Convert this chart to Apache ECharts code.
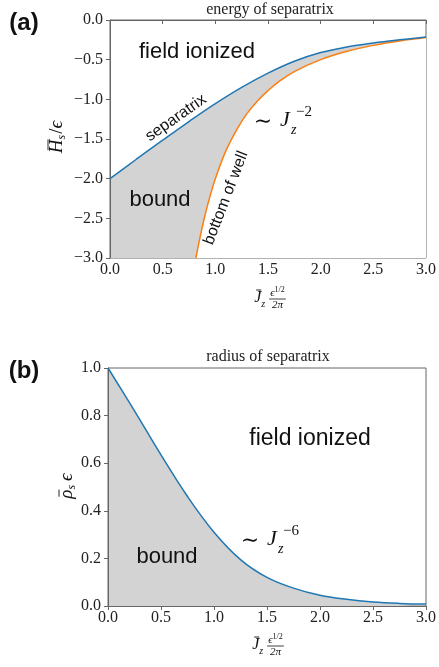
<!DOCTYPE html>
<html>
<head>
<meta charset="utf-8">
<script src="https://cdn.jsdelivr.net/npm/echarts@6/dist/echarts.min.js"></script>
<style>
  html, body { margin: 0; padding: 0; background: #fff; }
  #chart { width: 439px; height: 667px; }
</style>
</head>
<body>
<div id="chart"></div>
<script>
// (a) energy of separatrix: separatrix (blue) and bottom of well (orange)
const sepJ = [0, 0.25, 0.5, 0.75, 1.0, 1.25, 1.5, 1.75, 2.0, 2.25, 2.5, 2.75, 3.0];
const sepH = [-2.0, -1.755, -1.515, -1.28, -1.055, -0.85, -0.67, -0.52, -0.41, -0.34, -0.29, -0.25, -0.215];
const wellJ = [0.816, 0.85, 0.9, 0.95, 1.0, 1.1, 1.2, 1.3, 1.4, 1.5, 1.6, 1.75, 2.0, 2.25, 2.5, 2.75, 3.0];
const wellH = [-3.0, -2.77, -2.47, -2.22, -2.0, -1.65, -1.39, -1.18, -1.02, -0.89, -0.78, -0.65, -0.5, -0.395, -0.32, -0.265, -0.222];

// (b) radius of separatrix
const radJ = [0, 0.25, 0.5, 0.75, 1.0, 1.25, 1.5, 1.75, 2.0, 2.25, 2.5, 2.75, 3.0];
const radRho = [1.0, 0.82, 0.635, 0.46, 0.31, 0.195, 0.12, 0.075, 0.045, 0.028, 0.017, 0.011, 0.008];

const BLUE = '#1f77b4';
const ORANGE = '#ff7f0e';
const FILL = '#d3d3d3';
const SPINE = '#666';
const INK = '#111';
const SERIF = '"Liberation Serif", "DejaVu Serif", serif';
const SANS = '"Liberation Sans", Arial, sans-serif';

const zip = (xs, ys) => xs.map((x, i) => [x, ys[i]]);
const fmt = (v) => v.toFixed(1).replace('-', '\u2212');

const measureCtx = document.createElement('canvas').getContext('2d');
const textWidth = (font, t) => {
  measureCtx.font = font;
  return measureCtx.measureText(t).width;
};

// lay out a row of math pieces, centred on (cx, cy), optionally rotated
const mathRow = (parts, cx, cy, rotation) => {
  const children = [];
  let x = 0;
  parts.forEach((p) => {
    if (p.frac) {
      const nw = p.num.reduce((s, q) => s + textWidth(q.font, q.t), 0);
      const dw = textWidth(p.den.font, p.den.t);
      const w = Math.max(nw, dw) + 2;
      let nx = x + (w - nw) / 2;
      p.num.forEach((q) => {
        children.push({ type: 'text', x: nx, y: q.dy, style: { text: q.t, font: q.font, fill: INK, align: 'left', verticalAlign: 'middle' } });
        nx += textWidth(q.font, q.t);
      });
      children.push({ type: 'line', shape: { x1: x, y1: p.lineY, x2: x + w, y2: p.lineY }, style: { stroke: INK, lineWidth: 0.8 } });
      children.push({ type: 'text', x: x + w / 2, y: p.den.dy, style: { text: p.den.t, font: p.den.font, fill: INK, align: 'center', verticalAlign: 'middle' } });
      x += w + (p.gap || 0);
      return;
    }
    const w = textWidth(p.font, p.t);
    children.push({ type: 'text', x: x, y: p.dy || 0, style: { text: p.t, font: p.font, fill: INK, align: 'left', verticalAlign: 'middle' } });
    if (p.bar) {
      children.push({ type: 'line', shape: { x1: x + p.bar[0], y1: p.bar[2], x2: x + w + p.bar[1], y2: p.bar[2] }, style: { stroke: INK, lineWidth: 0.9 } });
    }
    x += w + (p.gap || 0);
  });
  return {
    type: 'group', x: cx, y: cy, rotation: rotation || 0, silent: true, z: 100,
    children: [{ type: 'group', x: -x / 2, y: 0, z: 100, children: children.map((c) => ({ ...c, z: 100 })) }]
  };
};

const plainText = (t, x, y, font, opts = {}) => ({
  type: 'text', x, y, z: 100, rotation: opts.rotation || 0, silent: true,
  style: { text: t, font, fill: opts.fill || INK, align: opts.align || 'center', verticalAlign: 'middle' }
});

const it = (size) => `italic ${size}px ${SERIF}`;
const rm = (size) => `${size}px ${SERIF}`;

const xLabel = (cx, cy) => mathRow([
  { t: 'J', font: it(16), bar: [2, 0, -8], gap: 0 },
  { t: 'z', font: it(10), dy: 6, gap: 4 },
  {
    frac: true, lineY: 1,
    num: [{ t: '\u03f5', font: it(11), dy: -5 }, { t: '1/2', font: rm(8), dy: -8 }],
    den: { t: '2\u03c0', font: it(11), dy: 7 }
  }
], cx, cy);

// "~ J_z^(power)" scaling annotation
const scaling = (x, y, power) => [
  plainText('\u223c', x, y + 2, rm(22)),
  plainText('J', x + 17, y, it(22), { align: 'left' }),
  plainText('z', x + 28, y + 10, it(14), { align: 'left' }),
  plainText(power, x + 33, y - 8, rm(15), { align: 'left' })
];

const axisCommon = {
  z: 3,
  axisLine: { show: true, lineStyle: { color: SPINE, width: 1 } },
  axisTick: { show: true, length: 4, lineStyle: { color: SPINE, width: 1 } },
  splitLine: { show: false },
  axisLabel: { color: '#222', fontFamily: SERIF, fontSize: 16, formatter: fmt }
};

const lineCommon = { type: 'line', smooth: 0.4, showSymbol: false, silent: true };

const option = {
  animation: false,
  backgroundColor: '#fff',
  grid: [
    { left: 110, top: 20, width: 321, height: 238, show: true, borderColor: SPINE, borderWidth: 1, backgroundColor: 'transparent', z: 3 },
    { left: 108, top: 368, width: 321, height: 238, show: true, borderColor: SPINE, borderWidth: 1, backgroundColor: 'transparent', z: 3 }
  ],
  xAxis: [
    { ...axisCommon, gridIndex: 0, type: 'value', min: 0, max: 3, interval: 0.5, axisLabel: { ...axisCommon.axisLabel, margin: 4 } },
    { ...axisCommon, gridIndex: 1, type: 'value', min: 0, max: 3, interval: 0.5, axisLabel: { ...axisCommon.axisLabel, margin: 4 } }
  ],
  yAxis: [
    { ...axisCommon, gridIndex: 0, type: 'value', min: -3, max: 0, interval: 0.5, axisLabel: { ...axisCommon.axisLabel, margin: 7 } },
    { ...axisCommon, gridIndex: 1, type: 'value', min: 0, max: 1, interval: 0.2, axisLabel: { ...axisCommon.axisLabel, margin: 7 } }
  ],
  series: [
    {
      // grey "bound" region under the separatrix
      ...lineCommon, xAxisIndex: 0, yAxisIndex: 0, data: zip(sepJ, sepH),
      lineStyle: { width: 0, opacity: 0 },
      areaStyle: { color: FILL, opacity: 1, origin: 'start' }
    },
    {
      // bottom of well, clearing everything beneath it
      ...lineCommon, xAxisIndex: 0, yAxisIndex: 0, data: zip(wellJ, wellH),
      lineStyle: { color: ORANGE, width: 1.5 },
      areaStyle: { color: '#fff', opacity: 1, origin: 'start' }
    },
    {
      ...lineCommon, xAxisIndex: 0, yAxisIndex: 0, data: zip(sepJ, sepH),
      lineStyle: { color: BLUE, width: 1.5 }
    },
    {
      ...lineCommon, xAxisIndex: 1, yAxisIndex: 1, data: zip(radJ, radRho),
      lineStyle: { color: BLUE, width: 1.5 },
      areaStyle: { color: FILL, opacity: 1, origin: 'start' }
    }
  ],
  graphic: [
    plainText('(a)', 24, 23, `bold 24px ${SANS}`),
    plainText('(b)', 24, 371, `bold 24px ${SANS}`),
    plainText('energy of separatrix', 270, 10, rm(16), { fill: '#222' }),
    plainText('radius of separatrix', 268, 357, rm(16), { fill: '#222' }),

    plainText('field ionized', 197, 52, `22px ${SANS}`),
    plainText('bound', 160, 200, `22px ${SANS}`),
    plainText('separatrix', 176, 118, `16px ${SANS}`, { rotation: 35 * Math.PI / 180 }),
    plainText('bottom of well', 226, 198, `16px ${SANS}`, { rotation: 69 * Math.PI / 180 }),
    ...scaling(263, 120, '\u22122'),

    plainText('field ionized', 310, 439, `23px ${SANS}`),
    plainText('bound', 167, 557, `22px ${SANS}`),
    ...scaling(250, 539, '\u22126'),

    mathRow([
      { t: 'H', font: it(19), bar: [3, 0, -9] },
      { t: 's', font: it(12), dy: 5, gap: 1 },
      { t: '/', font: rm(19) },
      { t: '\u03f5', font: it(19) }
    ], 57, 137, Math.PI / 2),
    mathRow([
      { t: '\u03c1', font: it(19), bar: [2, 0, -8] },
      { t: 's', font: it(12), dy: 5, gap: 4 },
      { t: '\u03f5', font: it(19) }
    ], 67, 486, Math.PI / 2),

    xLabel(270, 298),
    xLabel(268, 645)
  ]
};

const chart = echarts.init(document.getElementById('chart'));
chart.setOption(option);
</script>
</body>
</html>
